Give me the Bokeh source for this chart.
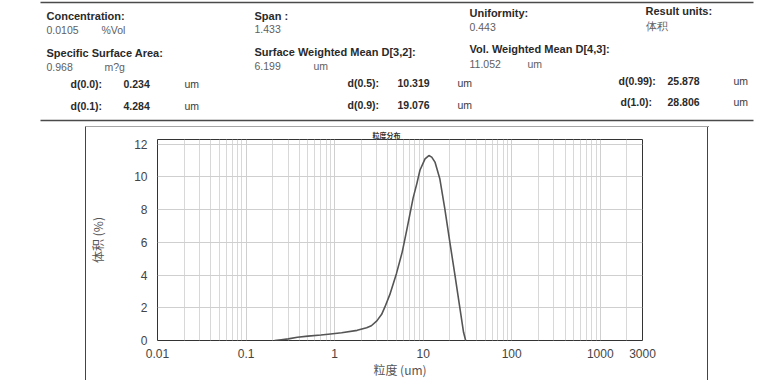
from bokeh.plotting import figure
from bokeh.models import Range1d, FixedTicker, Spacer
from bokeh.layouts import column, row
from bokeh.core.properties import value
from bokeh.embed import file_html
from bokeh.resources import INLINE

# ---------------- data ----------------
size_um = [0.21, 0.25, 0.3, 0.38, 0.5, 0.7, 0.9, 1.2, 1.8, 2.3, 2.6, 3.0, 3.4, 3.7,
           4.2, 5.0, 5.8, 6.5, 7.7, 8.5, 9.2, 10.5, 11.6, 12.5, 13.6, 15.4, 17.5,
           19.9, 22.7, 25.8, 28.6, 30.2]
volume_pct = [0.0, 0.05, 0.1, 0.2, 0.27, 0.34, 0.4, 0.47, 0.62, 0.78, 0.9, 1.2, 1.6, 2.05,
              2.8, 4.1, 5.4, 6.7, 8.7, 9.6, 10.4, 11.1, 11.3, 11.2, 10.9, 9.9, 8.1,
              6.1, 4.1, 2.1, 0.5, 0.0]
x_major = [0.01, 0.1, 1, 10, 100, 1000, 3000]
x_major_labels = ["0.01", "0.1", "1", "10", "100", "1000", "3000"]
x_minor = [m * d for d in [0.01, 0.1, 1, 10, 100] for m in range(2, 10)] + [2000]
y_ticks = [0, 2, 4, 6, 8, 10, 12]

# header texts
hdr_bold_text = ["Concentration:", "Specific Surface Area:", "Span :", "Surface Weighted Mean D[3,2]:",
                 "Uniformity:", "Vol. Weighted Mean D[4,3]:", "Result units:"]
hdr_bold_x = [46, 46, 254, 254, 469, 469, 645]
hdr_bold_y = [15, 52, 15, 51, 12, 48, 10]

hdr_val_text = ["0.0105", "%Vol", "0.968", "m?g", "1.433", "6.199", "um", "0.443", "11.052", "um", "体积"]
hdr_val_x = [46, 101, 46, 104, 254, 254, 313, 469, 469, 527, 645]
hdr_val_y = [29, 29, 66, 66, 28, 65, 65, 26, 63, 63, 25]

d_text = ["d(0.0):", "0.234", "d(0.1):", "4.284", "d(0.5):", "10.319", "d(0.9):", "19.076",
          "d(0.99):", "25.878", "d(1.0):", "28.806"]
d_x = [70, 123, 70, 123, 347, 397, 347, 397, 618, 667, 620, 667]
d_y = [83, 83, 105, 105, 82, 82, 104, 104, 80, 80, 101, 101]
um_x = [184, 184, 457, 457, 733, 733]
um_y = [83, 105, 82, 104, 80, 101]

FONT = "Liberation Sans"
CJK = "Noto Sans CJK SC"

# ---------------- header figure ----------------
h = figure(width=783, height=127, x_range=Range1d(0, 783), y_range=Range1d(127, 0),
           output_backend="svg", toolbar_location=None, x_axis_location=None,
           y_axis_location=None, min_border=0, outline_line_color=None)
h.xgrid.visible = False
h.ygrid.visible = False

h.text(x=hdr_bold_x, y=hdr_bold_y, text=hdr_bold_text, text_font=value(FONT),
       text_font_size="11px", text_font_style="bold", text_color="#2a2a2a",
       text_baseline="middle", text_align="left")
h.text(x=hdr_val_x, y=hdr_val_y, text=hdr_val_text, text_font=value(FONT),
       text_font_size="10.5px", text_color="#606060",
       text_baseline="middle", text_align="left")
h.text(x=d_x, y=d_y, text=d_text, text_font=value(FONT),
       text_font_size="10.5px", text_font_style="bold", text_color="#2a2a2a",
       text_baseline="middle", text_align="left")
h.text(x=um_x, y=um_y, text=["um"] * len(um_x), text_font=value(FONT),
       text_font_size="10.5px", text_color="#3a3a3a",
       text_baseline="middle", text_align="left")

h.segment(x0=[40, 40, 85, 85, 708], y0=[2, 120, 126.5, 126, 126],
          x1=[753, 753, 708, 85, 708], y1=[2, 120, 126.5, 127, 127],
          line_color="#4a4a4a", line_width=[1.5, 1.5, 1, 1, 1])

# ---------------- chart figure ----------------
p = figure(width=623, height=253, x_axis_type="log",
           x_range=Range1d(0.01, 3000), y_range=Range1d(0, 12.28),
           output_backend="svg", toolbar_location=None,
           min_border_left=67, min_border_right=67, min_border_top=11, min_border_bottom=39,
           outline_line_color="#333333", outline_line_width=1,
           styles={"border-left": "1px solid #444", "border-right": "1px solid #444"})

p.title.text = "粒度分布"
p.title.text_font = CJK
p.title.text_font_size = "7px"
p.title.text_font_style = "bold"
p.title.text_color = "#333333"
p.title.align = "left"
p.title.offset = 215
p.title.standoff = 0

p.line(size_um, volume_pct, line_color="#555555", line_width=1.6)

p.xaxis.ticker = FixedTicker(ticks=x_major, minor_ticks=x_minor)
p.xaxis.major_label_overrides = dict(zip(x_major, x_major_labels))
p.yaxis.ticker = FixedTicker(ticks=y_ticks)

for ax in (p.xaxis, p.yaxis):
    ax.axis_line_color = None
    ax.major_tick_line_color = None
    ax.minor_tick_line_color = None
    ax.major_label_text_font = FONT
    ax.major_label_text_font_size = "12px"
    ax.major_label_text_color = "#444444"
    ax.axis_label_text_font = CJK
    ax.axis_label_text_font_size = "12px"
    ax.axis_label_text_font_style = "normal"
    ax.axis_label_text_color = "#555555"

p.xaxis.axis_label = "粒度 (um)"
p.xaxis.major_label_standoff = 2
p.xaxis.axis_label_standoff = 0
p.yaxis.axis_label = "体积 (%)"
p.yaxis.major_label_standoff = 4
p.yaxis.axis_label_standoff = 25

p.xgrid.grid_line_color = "#cfcfcf"
p.xgrid.minor_grid_line_color = "#d8d8d8"
p.ygrid.grid_line_color = "#cfcfcf"

layout = column(h, row(Spacer(width=85, height=253), p))

open("out.html", "w").write(file_html(layout, INLINE))
